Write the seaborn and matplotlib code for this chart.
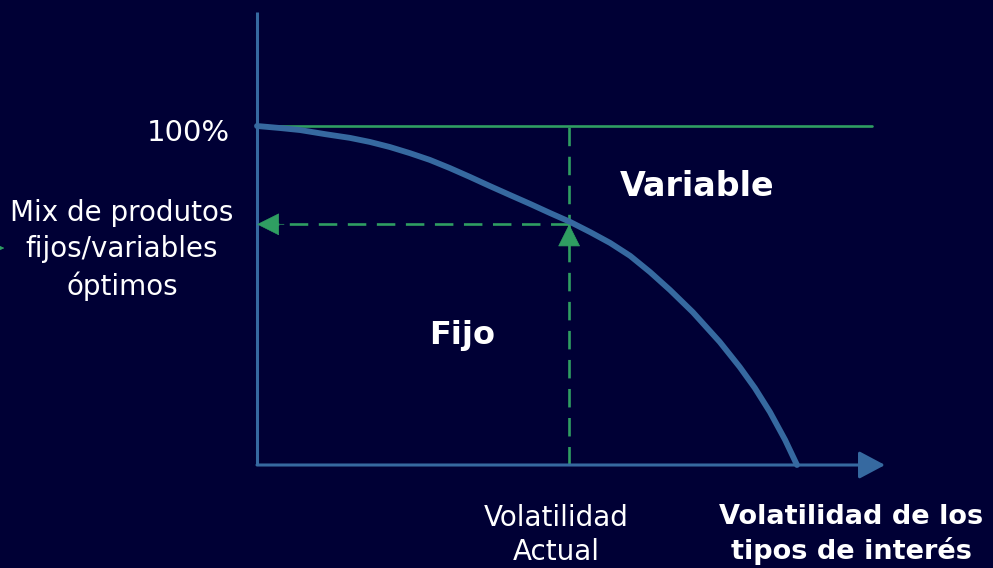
import numpy as np
import pandas as pd
import seaborn as sns
import matplotlib
matplotlib.use("Agg")
import matplotlib.pyplot as plt

# curva: volatilidad de tipos (0 = eje, 1 = fin de la curva) vs % fijo
volatilidad = [0.0, 0.043, 0.08, 0.126, 0.172, 0.209, 0.246, 0.283, 0.32, 0.357,
               0.394, 0.431, 0.469, 0.506, 0.543, 0.58, 0.617, 0.654, 0.691,
               0.728, 0.765, 0.807, 0.857, 0.894, 0.922, 0.95, 0.978, 1.0]
pct_fijo = [100, 99.4, 98.8, 97.6, 96.5, 95.3, 93.8, 92.0, 90.0, 87.6,
            85.0, 82.3, 79.6, 77.0, 74.3, 71.7, 68.7, 65.5, 61.7,
            56.9, 51.6, 45.1, 36.3, 28.9, 22.7, 15.6, 7.4, 0]
vol_actual = 0.578
mix_optimo = 71.0
tope = 100
x_max = 1.163   # punta de la flecha del eje x
y_max = 133.6   # tope del eje y
linea_tope = 1.139

fondo = "#000035"
azul = "#3669a0"
verde = "#2f9e62"

sns.set_theme(style="white", rc={"figure.facecolor": fondo, "axes.facecolor": fondo})
plt.rcParams["font.family"] = ["DejaVu Sans"]

fig = plt.figure(figsize=(9.93, 5.68), dpi=100)
# ejes colocados para que 0..1 y 0..100 caigan donde en la imagen
ax = fig.add_axes([257 / 993, 103 / 568, 540 / 993, 339 / 568])
ax.set_xlim(0, 1)
ax.set_ylim(0, 100)
ax.axis("off")

df = pd.DataFrame({"vol": volatilidad, "fijo": pct_fijo})

# linea superior 100%
sns.lineplot(x=[0, linea_tope], y=[tope, tope], color=verde, lw=1.9, ax=ax)
ax.lines[-1].set_clip_on(False)
# linea vertical discontinua en la volatilidad actual
ax.plot([vol_actual, vol_actual], [0, tope], color=verde, lw=1.9,
        dashes=(7, 4), clip_on=False)
# flecha horizontal discontinua hacia el eje y
ax.plot([vol_actual, 0.03], [mix_optimo, mix_optimo], color=verde, lw=1.9,
        dashes=(7, 4), clip_on=False)

# ejes con flechas
ax.plot([0, 0], [0, y_max], color=azul, lw=2.2, clip_on=False, solid_capstyle="butt")
ax.annotate("", xy=(x_max, 0), xytext=(0, 0), annotation_clip=False,
            arrowprops=dict(arrowstyle="-|>,head_length=16,head_width=8.5",
                            mutation_scale=1, color=azul, lw=2.2,
                            shrinkA=0, shrinkB=0))

# curva
sns.lineplot(data=df, x="vol", y="fijo", color=azul, lw=4.2, sort=False,
             ax=ax)
ax.lines[-1].set_clip_on(False)
ax.lines[-1].set_solid_joinstyle("round")

# puntas de flecha verdes
punta = dict(arrowstyle="-|>,head_length=15,head_width=7.5", mutation_scale=1,
             color=verde, lw=0.5, shrinkA=0, shrinkB=0)
ax.annotate("", xy=(0, mix_optimo), xytext=(0.05, mix_optimo),
            annotation_clip=False, arrowprops=punta)
ax.annotate("", xy=(vol_actual, mix_optimo), xytext=(vol_actual, mix_optimo - 8),
            annotation_clip=False, arrowprops=punta)
ax.annotate("", xy=(-0.468, 64.0), xytext=(-0.52, 64.0), annotation_clip=False,
            arrowprops=dict(punta, arrowstyle="-|>,head_length=8,head_width=4"))

# textos
blanco = "white"
ax.text(-0.05, 97.9, "100%", color=blanco, fontsize=21, ha="right", va="center")
ax.text(-0.25, 63.3, "Mix de produtos\nfijos/variables\nóptimos", color=blanco,
        fontsize=20, ha="center", va="center", linespacing=1.36, multialignment="center")
ax.text(0.815, 82.3, "Variable", color=blanco, fontsize=24, fontweight="bold",
        ha="center", va="center")
ax.text(0.380, 38.3, "Fijo", color=blanco, fontsize=23, fontweight="bold",
        ha="center", va="center")
ax.text(0.554, -20.6, "Volatilidad\nActual", color=blanco, fontsize=20,
        ha="center", va="center", linespacing=1.3)
ax.text(1.1, -20.6, "Volatilidad de los\ntipos de interés", color=blanco, fontsize=19.5,
        fontweight="bold", ha="center", va="center", linespacing=1.33)

fig.savefig("out.png", dpi=100, facecolor=fondo)
